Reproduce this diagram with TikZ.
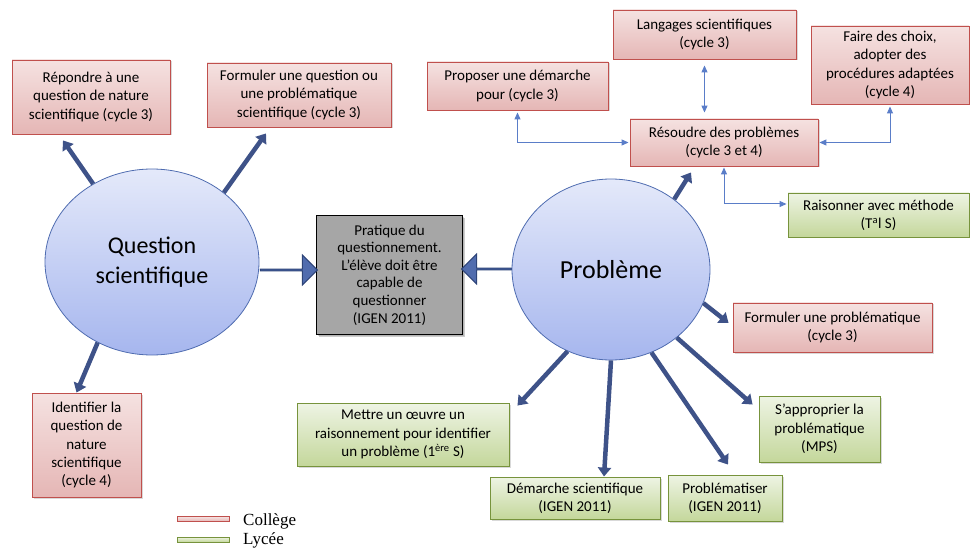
\documentclass[tikz,border=0pt]{standalone}
\usepackage{fontspec}
\setmainfont{Carlito}
\newfontfamily\legendfont{Liberation Serif}
\usetikzlibrary{shapes.geometric,shapes.arrows,arrows.meta,shadows,calc}

\definecolor{pinktop}{RGB}{245,226,225}
\definecolor{pinkbot}{RGB}{229,182,181}
\definecolor{pinkline}{RGB}{192,80,77}
\definecolor{greentop}{RGB}{238,244,228}
\definecolor{greenbot}{RGB}{196,215,155}
\definecolor{greenline}{RGB}{119,147,60}
\definecolor{elltop}{RGB}{228,233,250}
\definecolor{ellbot}{RGB}{166,182,238}
\definecolor{ellline}{RGB}{79,108,176}
\definecolor{thickblue}{RGB}{62,82,136}
\definecolor{blockfill}{RGB}{80,108,174}
\definecolor{blockline}{RGB}{45,68,120}
\definecolor{connblue}{RGB}{90,125,200}
\definecolor{grayfill}{RGB}{166,166,166}

\tikzset{
  base/.style={rectangle, align=center, inner sep=2pt, font=\fontsize{15}{18.3}\selectfont, text=black,
    drop shadow={opacity=0.3, shadow xshift=1.5pt, shadow yshift=-1.5pt}},
  pinkbox/.style={base, draw=pinkline, line width=0.9pt, top color=pinktop, bottom color=pinkbot},
  greenbox/.style={base, draw=greenline, line width=0.9pt, top color=greentop, bottom color=greenbot},
  graybox/.style={base, draw=black, line width=1.1pt, fill=grayfill, font=\fontsize{15}{17.6}\selectfont,
    drop shadow={opacity=0.4, shadow xshift=2pt, shadow yshift=-2.5pt}},
  bubble/.style={ellipse, draw=ellline, line width=0.8pt, top color=elltop, bottom color=ellbot, align=center, inner sep=0pt},
  thickarrow/.style={draw=thickblue, line width=4.5pt, -{Triangle[width=13pt,length=9pt]}},
  conn/.style={draw=connblue, line width=1pt, {Triangle[width=6pt,length=7pt]}-{Triangle[width=6pt,length=7pt]}},
  blockarrow/.style={single arrow, draw=blockline, line width=1pt, fill=blockfill, single arrow head extend=8pt,
    single arrow tip angle=90, minimum width=30pt, inner sep=0pt},
  legendbar/.style={rectangle, minimum width=52pt, minimum height=5pt, inner sep=0pt, line width=0.8pt},
  legendtext/.style={anchor=base west, inner sep=0pt, font=\legendfont\fontsize{17}{17}\selectfont}
}

\begin{document}
\begin{tikzpicture}[x=1pt, y=-1pt]
\useasboundingbox (0,0) rectangle (970,548);

% left cluster
\node[pinkbox, minimum width=158pt, minimum height=74pt] (A) at (91,97) {Répondre à une\\question de nature\\scientifique (cycle 3)};
\node[pinkbox, minimum width=184pt, minimum height=64pt] (B) at (299,95) {Formuler une question ou\\une problématique\\scientifique (cycle 3)};
\node[pinkbox, minimum width=109pt, minimum height=104pt] (D) at (86.5,445) {Identifier la\\question de\\nature\\scientifique\\(cycle 4)};
\node[bubble, minimum width=214pt, minimum height=186pt, font=\fontsize{24}{30}\selectfont] (Q) at (152,262) {Question\\scientifique};

% centre
\node[graybox, minimum width=146pt, minimum height=119pt] (C) at (389.5,275) {Pratique du\\questionnement.\\L’élève doit être\\capable de\\questionner\\(IGEN 2011)};
\node[blockarrow, minimum height=57pt] (arQ) at (288.5,270) {};
\node[blockarrow, minimum height=50pt, shape border rotate=180] (arP) at (487,269) {};

% right cluster
\node[bubble, minimum width=198pt, minimum height=181pt, font=\fontsize{26}{30}\selectfont] (P) at (611,269.5) {Problème};
\node[pinkbox, minimum width=188pt, minimum height=47pt] (R) at (724,142.5) {Résoudre des problèmes\\(cycle 3 et 4)};
\node[pinkbox, minimum width=183pt, minimum height=49pt] (L) at (704.5,34.5) {Langages scientifiques\\(cycle 3)};
\node[pinkbox, minimum width=181pt, minimum height=48pt] (Pr) at (517.5,86) {Proposer une démarche\\pour (cycle 3)};
\node[pinkbox, minimum width=158pt, minimum height=78pt] (F) at (890,65) {Faire des choix,\\adopter des\\procédures adaptées\\(cycle 4)};
\node[greenbox, minimum width=181pt, minimum height=44pt] (Ra) at (878.5,215) {Raisonner avec méthode\\(T\textsuperscript{a}l S)};
\node[pinkbox, minimum width=199pt, minimum height=49pt] (FP) at (832.5,327.5) {Formuler une problématique\\(cycle 3)};
\node[greenbox, minimum width=121pt, minimum height=66pt] (S) at (819.5,429) {S’approprier la\\problématique\\(MPS)};
\node[greenbox, minimum width=114pt, minimum height=46pt] (Pb) at (725,498) {Problématiser\\(IGEN 2011)};
\node[greenbox, minimum width=170pt, minimum height=42pt] (DS) at (575,498) {Démarche scientifique\\(IGEN 2011)};
\node[greenbox, minimum width=212pt, minimum height=63pt] (M) at (403,434.5) {Mettre un œuvre un\\raisonnement pour identifier\\un problème (1\textsuperscript{ère} S)};

% thick arrows
\draw[thickarrow] (Q.127.6) -- ($(A.south)+(-28,6)$);
\draw[thickarrow] (Q.44.6) -- ($(B.south)+(-33,6)$);
\draw[thickarrow] (Q.236.6) -- ($(D.north)+(-10,0)$);
\draw[thickarrow] (P.48.7) -- ($(R.south)+(-33,6)$);
\draw[thickarrow] (P.-20.8) -- ($(FP.west)+(-4,-4.5)$);
\draw[thickarrow] (P.-46) -- ($(S.north west)+(-6,9)$);
\draw[thickarrow] (P.-64.1) -- ($(Pb.north)+(3,-10)$);
\draw[thickarrow] (P.-90.6) -- ($(DS.north)+(29,0)$);
\draw[thickarrow] (P.-118.6) -- ($(M.north east)+(8,3)$);

% thin connectors
\coordinate (raIn) at ($(Ra.west)+(0,-11)$);
\draw[conn, shorten <=6pt, shorten >=6pt] (L.south) -- (L.south |- R.north);
\draw[conn, shorten <=2pt, shorten >=1pt] (Pr.south) |- (R.west);
\draw[conn, shorten <=2pt, shorten >=1pt] (F.south) |- (R.east);
\draw[conn, shorten <=1pt, shorten >=1pt] (R.south) |- (raIn);

% legend
\node[legendbar, draw=pinkline, top color=pinktop, bottom color=pinkbot] (legC) at (203,519) {};
\node[legendbar, draw=greenline, top color=greentop, bottom color=greenbot] (legL) at (203,539.5) {};
\node[legendtext] (legCt) at (243,525.5) {Collège};
\node[legendtext] (legLt) at (243,544) {Lycée};
\end{tikzpicture}
\end{document}
